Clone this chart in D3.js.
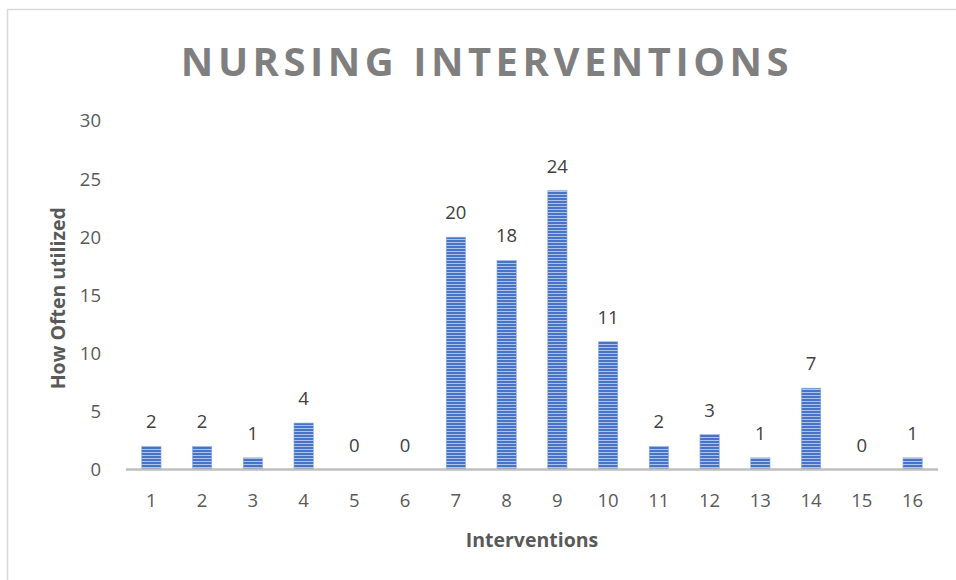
<!DOCTYPE html>
<html><head><meta charset="utf-8">
<script src="https://cdn.jsdelivr.net/npm/d3@7"></script>
<style>body{margin:0;background:#fff}svg{display:block}text{font-family:"Open Sans","Liberation Sans",sans-serif}</style>
</head><body>
<svg id="c" width="956" height="580"></svg>
<script>
const categories = ["1","2","3","4","5","6","7","8","9","10","11","12","13","14","15","16"];
const values = [2,2,1,4,0,0,20,18,24,11,2,3,1,7,0,1];
const yTicks = [0,5,10,15,20,25,30];
const title = "NURSING INTERVENTIONS";
const xTitle = "Interventions";
const yTitle = "How Often utilized";

const svg = d3.select("#c");
svg.append("rect").attr("x",7.5).attr("y",9.5).attr("width",960).attr("height",600)
  .attr("fill","#fff").attr("stroke","#d9d9d9").attr("stroke-width",1.5);

const defs = svg.append("defs");
const pat = defs.append("pattern").attr("id","stripes").attr("patternUnits","userSpaceOnUse")
  .attr("width",6).attr("height",3);
pat.append("rect").attr("width",6).attr("height",3).attr("fill","#4874c8");
pat.append("rect").attr("y",2).attr("width",6).attr("height",1).attr("fill","#adc3ec");

const m = {left:126, right:938, top:121, bottom:469.5};
const x = d3.scaleBand().domain(categories).range([m.left,m.right]).paddingInner(0.62).paddingOuter(0.31);
const y = d3.scaleLinear().domain([0,30]).range([m.bottom,m.top]);

svg.append("text").attr("x",487).attr("y",76).attr("text-anchor","middle")
  .attr("font-size",40).attr("font-weight",700).attr("fill","#7f7f7f")
  .attr("letter-spacing",4.5).text(title);

// y axis labels
const ya = svg.append("g").attr("transform",`translate(${m.left},0)`)
  .call(d3.axisLeft(y).tickValues(yTicks).tickSize(0).tickPadding(25));
ya.select(".domain").remove();
ya.selectAll("text").attr("font-size",18.5).attr("fill","#595959").style("font-family","'Open Sans',sans-serif");

// bars
svg.append("g").selectAll("rect").data(values).join("rect")
  .attr("x",(d,i)=>x(categories[i])).attr("width",x.bandwidth())
  .attr("y",d=>y(d)).attr("height",d=>y(0)-y(d))
  .attr("fill","url(#stripes)").attr("stroke","#8eaadf").attr("stroke-width",0.6);

// x axis
const xa = svg.append("g").attr("transform",`translate(0,${m.bottom})`)
  .call(d3.axisBottom(x).tickSize(0).tickPadding(24));
xa.select(".domain").attr("stroke","#bfbfbf").attr("stroke-width",2.5)
  .attr("d",`M${m.left},0H${m.right}`);
xa.selectAll("text").attr("font-size",18.5).attr("fill","#595959").style("font-family","'Open Sans',sans-serif");

// data labels
svg.append("g").selectAll("text").data(values).join("text")
  .attr("x",(d,i)=>x(categories[i])+x.bandwidth()/2).attr("y",d=>y(d)-18)
  .attr("text-anchor","middle").attr("font-size",18.5).attr("fill","#404040").text(d=>d);

svg.append("text").attr("x",(m.left+m.right)/2).attr("y",547).attr("text-anchor","middle")
  .attr("font-size",19.5).attr("font-weight",700).attr("fill","#595959").text(xTitle);
svg.append("text").attr("transform",`translate(65,${(m.top+m.bottom)/2+3}) rotate(-90)`)
  .attr("text-anchor","middle").attr("font-size",19.5).attr("font-weight",700).attr("fill","#595959").text(yTitle);
</script>
</body></html>
